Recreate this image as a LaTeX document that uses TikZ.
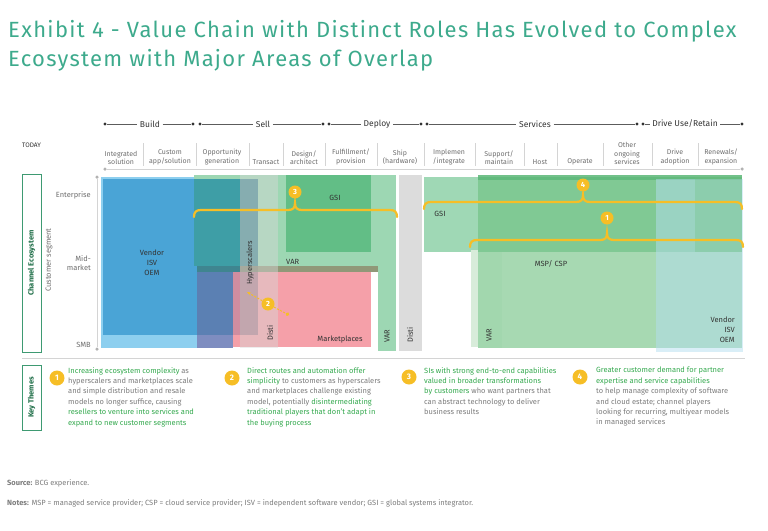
\documentclass[tikz,border=0pt]{standalone}
\usepackage{fontspec}
\setmainfont{Fira Sans}
\usetikzlibrary{positioning, arrows.meta}

\definecolor{titleteal}{HTML}{3DAA8C}
\definecolor{darktext}{HTML}{333333}
\definecolor{labelgray}{HTML}{6E6E6E}
\definecolor{textgray}{HTML}{7C7C7C}
\definecolor{keygreen}{HTML}{35A94F}
\definecolor{boxgreen}{HTML}{3E9A72}
\definecolor{chgreen}{HTML}{1F6E48}
\definecolor{rulegray}{HTML}{D4D4D4}
\definecolor{gold}{HTML}{F6BE26}
\definecolor{vendorblue}{HTML}{4AA4D6}
\definecolor{vendorpale}{HTML}{8DCFEF}
\definecolor{vargreen}{HTML}{9DD7B3}
\definecolor{tealmix}{HTML}{3E9EA6}
\definecolor{slatemix}{HTML}{5B80B3}
\definecolor{slatepale}{HTML}{7E8DC0}
\definecolor{bandteal}{HTML}{3F8590}
\definecolor{bandolive}{HTML}{909878}
\definecolor{gsigreen}{HTML}{62BE86}
\definecolor{mktpink}{HTML}{F28893}
\definecolor{distigray}{HTML}{D8D8D8}
\definecolor{hypergray}{HTML}{909090}
\definecolor{gsilight}{HTML}{9FD8B5}
\definecolor{mspgreen}{HTML}{6CC07F}
\definecolor{mspdark}{HTML}{4FB16F}
\definecolor{varpale}{HTML}{D8ECDA}
\definecolor{vendorlight}{HTML}{B4DDF0}

\newcommand{\keyhl}[1]{\textcolor{keygreen}{#1}}
% brace: left x, right x, tip x, y
\newcommand{\chainbrace}[4]{%
  \draw[bracepath] (#1,#4+7) .. controls (#1,#4+2) and (#1+2,#4) .. (#1+7,#4)
    -- (#3-7,#4) .. controls (#3-2,#4) and (#3,#4-2) .. (#3,#4-7)
    .. controls (#3,#4-2) and (#3+2,#4) .. (#3+7,#4)
    -- (#2-7,#4) .. controls (#2-2,#4) and (#2,#4+2) .. (#2,#4+7);}

\tikzset{
  titletext/.style={font=\fontsize{22}{29}\selectfont\addfontfeature{LetterSpace=6}, text=titleteal, inner sep=0pt},
  phase/.style={font=\fontsize{8.5}{10}\selectfont, text=darktext, inner sep=2.5pt},
  phasedot/.style={circle, fill=darktext, inner sep=0pt, minimum size=3.2pt},
  phaseline/.style={draw=darktext!80, line width=0.5pt},
  colhead/.style={font=\fontsize{7}{8.6}\selectfont, text=labelgray, align=center, anchor=south, inner sep=1pt},
  sepline/.style={draw=rulegray, line width=0.5pt},
  axisdot/.style={circle, fill=gray!60, inner sep=0pt, minimum size=3.5pt},
  axislabel/.style={font=\fontsize{7.5}{9}\selectfont, text=labelgray, align=right, inner sep=0pt},
  sidebox/.style={draw=boxgreen, line width=0.6pt, text=chgreen, font=\bfseries\fontsize{7.5}{9}\selectfont, minimum height=19pt, inner sep=0pt},
  blocklabel/.style={font=\fontsize{7.5}{10}\selectfont, text=darktext, inner sep=0pt},
  bracepath/.style={draw=gold, line width=2.2pt, line cap=round},
  themenum/.style={circle, fill=gold, text=white, font=\bfseries\fontsize{7.5}{8}\selectfont, inner sep=0pt, minimum size=13pt},
  keynum/.style={themenum, minimum size=15pt, font=\bfseries\fontsize{8}{8}\selectfont},
  themetext/.style={anchor=north west, align=left, inner sep=0pt, text=textgray, font=\fontsize{7.5}{10.4}\selectfont},
  foottext/.style={font=\fontsize{7.5}{9}\selectfont, text=textgray, inner sep=0pt, anchor=base west}
}

\begin{document}
\begin{tikzpicture}[x=1pt, y=-1pt]
\useasboundingbox (0,0) rectangle (768,530);

% title
\node[titletext, anchor=base west] (title1) at (8,37) {Exhibit 4 - Value Chain with Distinct Roles Has Evolved to Complex};
\node[titletext, anchor=base west] (title2) at (8,66) {Ecosystem with Major Areas of Overlap};

% phases
\node[phasedot] (b0) at (105,124) {};
\node[phase] (build) at (150,124) {Build};
\node[phasedot] (b1) at (193,124) {};
\node[phasedot] (s0) at (200,124) {};
\node[phase] (sell) at (263,124) {Sell};
\node[phasedot] (s1) at (323,124) {};
\node[phasedot] (d0) at (329,124) {};
\node[phase] (deploy) at (377,124) {Deploy};
\node[phasedot] (d1) at (421,124) {};
\node[phasedot] (v0) at (427,124) {};
\node[phase] (services) at (535,124) {Services};
\node[phasedot] (v1) at (637,124) {};
\node[phasedot] (r0) at (643,124) {};
\node[phase] (drive) at (685,124) {Drive Use/Retain};
\node[phasedot] (r1) at (742,124) {};
\draw[phaseline] (b0) -- (build) -- (b1);
\draw[phaseline] (s0) -- (sell) -- (s1);
\draw[phaseline] (d0) -- (deploy) -- (d1);
\draw[phaseline] (v0) -- (services) -- (v1);
\draw[phaseline] (r0) -- (drive) -- (r1);

% value chain steps
\node[font=\fontsize{6.5}{8}\selectfont, text=darktext, anchor=west, inner sep=0pt] (today) at (22,145) {TODAY};
\foreach \x in {143,196,249,283,325,377,424,475,524,557,603,652,698}
  \draw[sepline] (\x,143) -- (\x,166);
\node[colhead] (c1) at (121,166) {Integrated\\solution};
\node[colhead] (c2) at (170,166) {Custom\\app/solution};
\node[colhead] (c3) at (222,166) {Opportunity\\generation};
\node[colhead] (c4) at (266,166) {Transact};
\node[colhead] (c5) at (304,166) {Design/\\architect};
\node[colhead] (c6) at (351,166) {Fulfillment/\\provision};
\node[colhead] (c7) at (400,166) {Ship\\(hardware)};
\node[colhead] (c8) at (449,166) {Implemen\\/integrate};
\node[colhead] (c9) at (499,166) {Support/\\maintain};
\node[colhead] (c10) at (540,166) {Host};
\node[colhead] (c11) at (580,166) {Operate};
\node[colhead] (c12) at (627,166) {Other\\ongoing\\services};
\node[colhead] (c13) at (675,166) {Drive\\adoption};
\node[colhead] (c14) at (721,166) {Renewals/\\expansion};

% axes
\node[axisdot] (xa) at (105,169) {};
\node[axisdot] (xb) at (742,169) {};
\draw[rulegray, line width=0.7pt] (xa) -- (xb);
\node[axisdot] (ya) at (97,177) {};
\node[axisdot] (yb) at (97,349) {};
\draw[rulegray, line width=0.7pt] (ya) -- (yb);
\node[axislabel, anchor=east] (ent) at (91,195) {Enterprise};
\node[axislabel, anchor=east] (mid) at (91,263) {Mid-\\market};
\node[axislabel, anchor=east] (smb) at (91,345) {SMB};
\node[axislabel, rotate=90] (seg) at (49,260) {Customer segment};
\node[sidebox, rotate=90, minimum width=178pt] (chbox) at (31.5,263) {Channel Ecosystem};

% build / sell / deploy players
\fill[vendorpale] (101,177) rectangle (233,348);
\fill[vendorblue] (103,179) rectangle (258,335);
\fill[vargreen] (194,175) rectangle (258,179);
\fill[vargreen] (258,175) rectangle (396,272);
\fill[vargreen] (378,272) rectangle (396,351);
\fill[tealmix] (194,179) rectangle (258,266);
\fill[mktpink, opacity=0.8] (233,272) rectangle (371,347);
\fill[slatemix] (197,272) rectangle (233,335);
\fill[slatepale] (197,335) rectangle (233,348);
\fill[bandteal] (197,266) rectangle (240,272);
\fill[bandolive] (240,266) rectangle (378,272);
\fill[distigray, opacity=0.45] (240,175) rectangle (278,348);
\fill[hypergray, opacity=0.25] (240,179) rectangle (258,335);
\fill[gsigreen] (286,175) rectangle (371,252);
\fill[distigray!90] (399,175) rectangle (422,351);
\node[blocklabel, align=center] (vendor) at (152,263) {Vendor\\ISV\\OEM};
\node[blocklabel, rotate=90] (hyper) at (250,263) {Hyperscalers};
\node[blocklabel, rotate=90] (disti) at (270,333) {Disti};
\node[blocklabel] (gsi) at (335,198) {GSI};
\node[blocklabel, anchor=west] (var) at (286,262) {VAR};
\node[blocklabel] (mkt) at (340,339) {Marketplaces};
\node[blocklabel, rotate=90] (varstrip) at (387,336) {VAR};
\node[blocklabel, rotate=90] (shipdisti) at (410,335) {Disti};

% services / retain players
\fill[gsilight] (424,177) rectangle (742,252);
\fill[varpale] (471,250) rectangle (478,347);
\fill[mspgreen, opacity=0.6] (478,175) rectangle (742,348);
\fill[mspgreen, opacity=0.08] (478,252) rectangle (502,348);
\fill[mspdark, opacity=0.6] (478,175) rectangle (742,180);
\fill[vendorlight, opacity=0.5] (656,179) rectangle (743,352);
\fill[mspgreen, opacity=0.3] (695,177) rectangle (742,252);
\node[blocklabel] (gsi2) at (440,214) {GSI};
\node[blocklabel] (msp) at (551,264) {MSP/ CSP};
\node[blocklabel, rotate=90] (var2) at (489,335) {VAR};
\node[blocklabel, align=right, anchor=east] (vendor2) at (735,330) {Vendor\\ISV\\OEM};

% overlap braces
\chainbrace{194}{397}{295}{210}
\chainbrace{424}{742}{583}{202}
\chainbrace{470}{743}{607}{240}
\node[themenum] (m3) at (295,192) {3};
\node[themenum] (m4) at (583,185) {4};
\node[themenum] (m1) at (607,218) {1};
\node[themenum] (m2) at (268,304) {2};
\coordinate (hyp) at (247,292);
\coordinate (mk) at (289,315);
\draw[gold, line width=1pt, dash pattern=on 2pt off 1.5pt, -{Stealth[length=4pt]}] (m2) -- (hyp);
\draw[gold, line width=1pt, dash pattern=on 2pt off 1.5pt, -{Circle[length=3.5pt]}] (m2) -- (mk);

% key themes
\draw[rulegray, line width=0.7pt] (22,358) -- (745,358);
\node[sidebox, rotate=90, minimum width=65pt] (kbox) at (31.5,397.5) {Key Themes};
\node[keynum] (k1) at (57,378) {1};
\node[keynum] (k2) at (232,378) {2};
\node[keynum] (k3) at (409,377) {3};
\node[keynum] (k4) at (580,377) {4};
\node[themetext] (t1) at (68,367) {\keyhl{Increasing ecosystem complexity} as\\hyperscalers and marketplaces scale\\and simple distribution and resale\\models no longer suffice, causing\\\keyhl{resellers to venture into services and}\\\keyhl{expand to new customer segments}};
\node[themetext] (t2) at (247,367) {\keyhl{Direct routes and automation offer}\\\keyhl{simplicity} to customers as hyperscalers\\and marketplaces challenge existing\\model, potentially \keyhl{disintermediating}\\\keyhl{traditional players that don't adapt in}\\\keyhl{the buying process}};
\node[themetext] (t3) at (424,367) {\keyhl{SIs with strong end-to-end capabilities}\\\keyhl{valued in broader transformations}\\\keyhl{by customers} who want partners that\\can abstract technology to deliver\\business results};
\node[themetext] (t4) at (596,367) {\keyhl{Greater customer demand for partner}\\\keyhl{expertise and service capabilities}\\to help manage complexity of software\\and cloud estate; channel players\\looking for recurring, multiyear models\\in managed services};

% footer
\node[foottext] (src) at (7,485) {\textbf{Source:} BCG experience.};
\node[foottext] (notes) at (7,505) {\textbf{Notes:} MSP = managed service provider; CSP = cloud service provider; ISV = independent software vendor; GSI = global systems integrator.};
\end{tikzpicture}
\end{document}
